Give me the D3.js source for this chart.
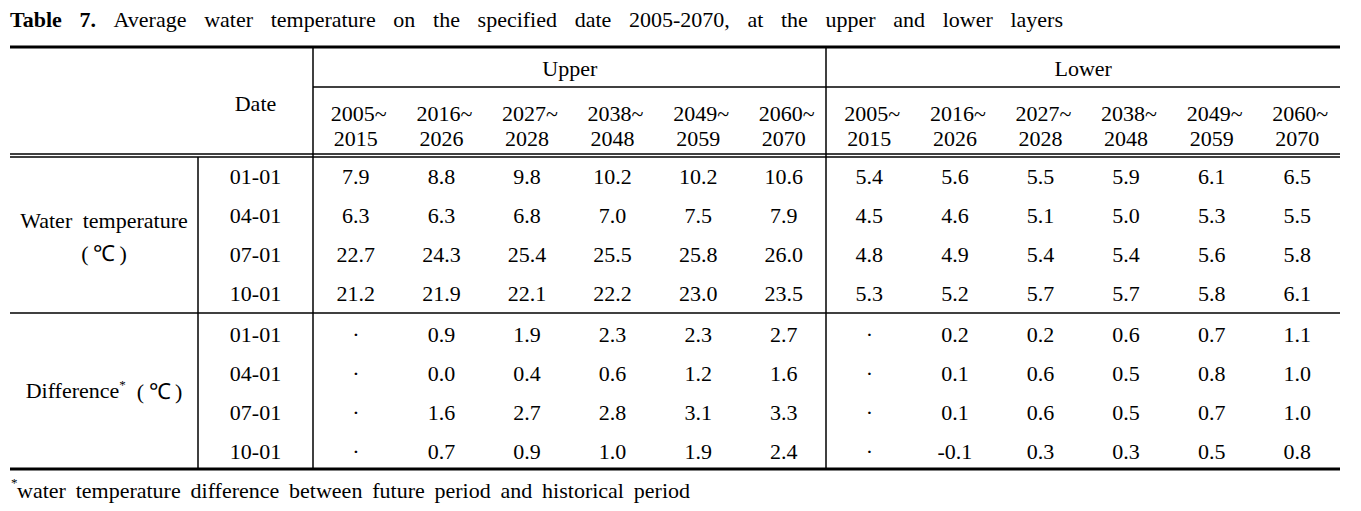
<!DOCTYPE html>
<html><head><meta charset="utf-8">
<script src="https://cdn.jsdelivr.net/npm/d3@7"></script>
<style>
html,body{margin:0;padding:0;background:#fff;}
svg text{font-family:"Liberation Serif","Times New Roman",serif;fill:#000;}
</style></head>
<body>
<svg id="chart" width="1361" height="511"></svg>
<script>
// ---- data ----
const titleBold = "Table 7.";
const titleRest = "Average water temperature on the specified date 2005-2070, at the upper and lower layers";
const layers = ["Upper", "Lower"];
const periodStart = ["2005~", "2016~", "2027~", "2038~", "2049~", "2060~"];
const periodEnd = ["2015", "2026", "2028", "2048", "2059", "2070"];
const dates = ["01-01", "04-01", "07-01", "10-01"];
const groups = ["Water temperature", "Difference"];
const upperTemp = [
  [7.9, 8.8, 9.8, 10.2, 10.2, 10.6],
  [6.3, 6.3, 6.8, 7.0, 7.5, 7.9],
  [22.7, 24.3, 25.4, 25.5, 25.8, 26.0],
  [21.2, 21.9, 22.1, 22.2, 23.0, 23.5]
];
const lowerTemp = [
  [5.4, 5.6, 5.5, 5.9, 6.1, 6.5],
  [4.5, 4.6, 5.1, 5.0, 5.3, 5.5],
  [4.8, 4.9, 5.4, 5.4, 5.6, 5.8],
  [5.3, 5.2, 5.7, 5.7, 5.8, 6.1]
];
const upperDiff = [
  [null, 0.9, 1.9, 2.3, 2.3, 2.7],
  [null, 0.0, 0.4, 0.6, 1.2, 1.6],
  [null, 1.6, 2.7, 2.8, 3.1, 3.3],
  [null, 0.7, 0.9, 1.0, 1.9, 2.4]
];
const lowerDiff = [
  [null, 0.2, 0.2, 0.6, 0.7, 1.1],
  [null, 0.1, 0.6, 0.5, 0.8, 1.0],
  [null, 0.1, 0.6, 0.5, 0.7, 1.0],
  [null, -0.1, 0.3, 0.3, 0.5, 0.8]
];
const footnote = "water temperature difference between future period and historical period";

// ---- layout ----
const svg = d3.select("#chart");
const FS = 22;
const left = 10, right = 1340;
const xGroupCol = 198, xDateCol = 313, xMid = 826;
const yTop = 47, yLayer = 87, yHead1 = 154, yHead2 = 157, yGroupSep = 313, yBottom = 469;

const cols = d3.range(12);
const x = d3.scaleBand().domain(cols).range([xDateCol, right]);
const yRow1 = d3.scaleBand().domain(dates).range([yHead2, yGroupSep]);
const yRow2 = d3.scaleBand().domain(dates).range([yGroupSep, yBottom]);
const fmt = v => d3.format(".1f")(v).replace("\u2212", "-");

function justify(sel, width) {
  const node = sel.node();
  const txt = node.textContent;
  const spaces = (txt.match(/ /g) || []).length;
  const w = node.getComputedTextLength();
  if (spaces > 0) sel.attr("word-spacing", (width - w) / spaces);
}

// title
const title = svg.append("text").attr("x", left).attr("y", 27).attr("font-size", FS);
title.append("tspan").attr("font-weight", "bold").text(titleBold + " ");
title.append("tspan").text(titleRest);
justify(title, 1063 - left);

// lines
const hl = (y, x1, x2, w) => svg.append("line").attr("x1", x1).attr("x2", x2).attr("y1", y).attr("y2", y)
  .attr("stroke", "#000").attr("stroke-width", w);
const vl = (xx, y1, y2, w) => svg.append("line").attr("x1", xx).attr("x2", xx).attr("y1", y1).attr("y2", y2)
  .attr("stroke", "#000").attr("stroke-width", w);
hl(yTop, left, right, 3);
hl(yLayer, xDateCol, right, 1.3);
hl(yHead1, left, right, 1.3);
hl(yHead2, left, right, 1.3);
hl(yGroupSep, left, right, 1.5);
hl(yBottom, left, right, 3);
vl(xDateCol, yTop, yBottom, 1.5);
vl(xMid, yTop, yBottom, 1.5);
vl(xGroupCol, yHead2, yBottom, 1.5);

const ctext = (xx, yy, t) => svg.append("text").attr("x", xx).attr("y", yy).attr("dy", "0.34em")
  .attr("text-anchor", "middle").attr("font-size", FS).text(t);

// header
ctext((xGroupCol + xDateCol) / 2, 104, "Date");
layers.forEach((l, i) => {
  const x0 = x(i * 6), x1 = x(i * 6 + 5) + x.bandwidth();
  ctext((x0 + x1) / 2, 69, l);
});
cols.forEach(c => {
  const cx = x(c) + x.bandwidth() / 2;
  ctext(cx, 114, periodStart[c % 6]).attr("dx", 3);
  ctext(cx, 139, periodEnd[c % 6]);
});

// group labels
const gx = (left + xGroupCol) / 2;
ctext(gx, 221, groups[0]).attr("word-spacing", 5);
ctext(gx, 254, "(\u2009℃\u2009)");
const diffLbl = svg.append("text").attr("x", gx).attr("y", 391).attr("dy", "0.34em")
  .attr("text-anchor", "middle").attr("font-size", FS);
diffLbl.append("tspan").text(groups[1]);
diffLbl.append("tspan").attr("font-size", 13).attr("dy", "-0.7em").text("*");
diffLbl.append("tspan").attr("dy", "0.45em").text("\u00A0 (\u2009℃\u2009)");

// body
function drawGroup(yScale, upper, lower, off) {
  dates.forEach((d, r) => {
    const cy = yScale(d) + yScale.bandwidth() / 2 + off;
    ctext((xGroupCol + xDateCol) / 2, cy, d);
    const vals = upper[r].concat(lower[r]);
    vals.forEach((v, c) => {
      ctext(x(c) + x.bandwidth() / 2, cy, v === null ? "·" : fmt(v));
    });
  });
}
drawGroup(yRow1, upperTemp, lowerTemp, 0);
drawGroup(yRow2, upperDiff, lowerDiff, 2);

// footnote
svg.append("text").attr("x", 11).attr("y", 487).attr("font-size", 13).text("*");
const fn = svg.append("text").attr("x", 17).attr("y", 498).attr("font-size", FS).text(footnote);
justify(fn, 690 - 17);
</script>
</body></html>
